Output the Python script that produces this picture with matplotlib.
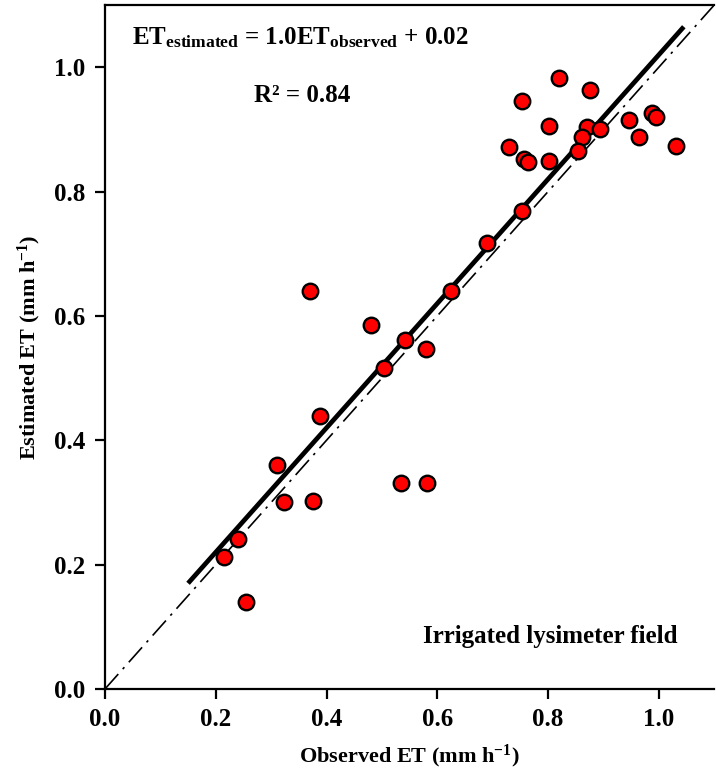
import numpy as np
import matplotlib
matplotlib.use("Agg")
import matplotlib.pyplot as plt

# ===========================================
# Observed vs estimated ET, irrigated lysimeter field

obs_et = [0.214, 0.240, 0.255, 0.310, 0.323, 0.376, 0.534, 0.582,
          0.371, 0.481, 0.541, 0.579, 0.504, 0.389,
          0.753, 0.690, 0.624,
          0.820, 0.876, 0.753, 0.801, 0.871, 0.893, 0.861, 0.854,
          0.730, 0.756, 0.763, 0.802, 0.946, 0.988, 0.995, 0.964, 1.031]
est_et = [0.213, 0.242, 0.140, 0.361, 0.301, 0.302, 0.331, 0.331,
          0.640, 0.586, 0.561, 0.546, 0.516, 0.439,
          0.768, 0.718, 0.640,
          0.983, 0.963, 0.945, 0.905, 0.904, 0.900, 0.887, 0.865,
          0.871, 0.852, 0.847, 0.849, 0.915, 0.927, 0.920, 0.887, 0.873]

fit_slope = 1.0
fit_icpt = 0.02
fit_range = [0.15, 1.045]
one_to_one = [0.0, 1.1]
ticks = [0.0, 0.2, 0.4, 0.6, 0.8, 1.0]

plt.rcParams['font.family'] = ['Liberation Serif', 'DejaVu Serif']
plt.rcParams['font.weight'] = 'bold'
plt.rcParams['mathtext.fontset'] = 'custom'
plt.rcParams['mathtext.rm'] = 'Liberation Serif:bold'
plt.rcParams['mathtext.bf'] = 'Liberation Serif:bold'
plt.rcParams['mathtext.it'] = 'Liberation Serif:bold'

fig = plt.figure(figsize=(7.16, 7.78), dpi=100)
ax1 = fig.add_axes([0.1466, 0.1144, 0.851, 0.8792])

### 1:1 line and fitted line
ax1.plot(one_to_one, one_to_one, color='black', lw=1.2,
         linestyle=(0, (12, 4, 1.5, 4)), zorder=1)
xf = np.array(fit_range)
ax1.plot(xf, fit_slope*xf + fit_icpt, color='black', lw=3.4,
         solid_capstyle='butt', zorder=2)

### Data
ax1.scatter(obs_et, est_et, s=125, color='red', edgecolors='black',
            linewidths=1.7, zorder=3)

ax1.set_xlim(0, 1.1)
ax1.set_ylim(0, 1.1)
ax1.set_xticks(ticks)
ax1.set_yticks(ticks)
ax1.set_xticklabels(['%.1f' % t for t in ticks])
ax1.set_yticklabels(['%.1f' % t for t in ticks])
ax1.tick_params(direction='out', length=7, width=1.6, labelsize=18, pad=7)
for sp in ['left', 'bottom', 'top']:
    ax1.spines[sp].set_linewidth(1.6)
ax1.spines['right'].set_visible(False)

ax1.set_xlabel(r'Observed ET (mm h$^{\mathbf{-1}}$)', fontsize=16,
               fontweight='bold', labelpad=8)
ax1.set_ylabel(r'Estimated ET (mm h$^{\mathbf{-1}}$)', fontsize=16,
               fontweight='bold', labelpad=8)

### Custom text on plot
ax1.text(0.32, 0.952,
         r'$\mathbf{ET_{estimated}}$ = 1.0$\mathbf{ET_{observed}}$ + 0.02',
         transform=ax1.transAxes, ha='center', va='center', fontsize=18,
         fontweight='bold')
ax1.text(0.323, 0.868, 'R² = 0.84', transform=ax1.transAxes,
         ha='center', va='center', fontsize=18, fontweight='bold')
ax1.text(0.73, 0.077, 'Irrigated lysimeter field', transform=ax1.transAxes,
         ha='center', va='center', fontsize=18, fontweight='bold')

plt.savefig('out.png', dpi=100)
